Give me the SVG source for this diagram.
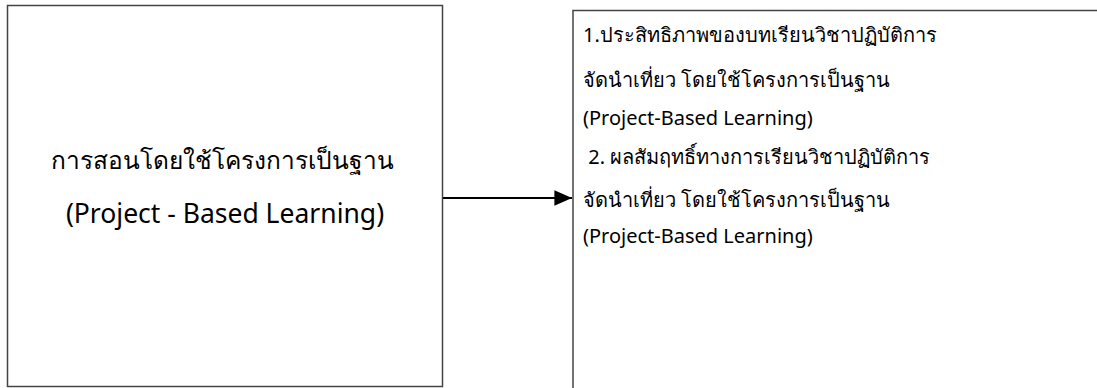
<svg xmlns="http://www.w3.org/2000/svg" width="1097" height="388" viewBox="0 0 1097 388">
<style>
.box{fill:#fff;stroke:#444;stroke-width:1.5}
.t{font-family:"Noto Sans","Open Sans",sans-serif;fill:#000}
.tlt{font-size:24.5px;text-anchor:middle}
.tll{font-size:26.5px;text-anchor:middle}
.tr{font-size:20px}
.conn{stroke:#000;stroke-width:2.2;fill:none}
</style>
<defs>
<marker id="ah" markerWidth="8" markerHeight="7" refX="8" refY="3.5" orient="auto" markerUnits="strokeWidth">
<path d="M0,0 L8,3.5 L0,7 Z" fill="#000"/>
</marker>
</defs>
<rect width="1097" height="388" fill="#fff"/>
<g id="node-left">
<rect class="box" x="7.5" y="5.5" width="435" height="381"/>
<text class="t tlt" x="222" y="169">การสอนโดยใช้โครงการเป็นฐาน</text>
<text class="t tll" x="225" y="223">(Project - Based Learning)</text>
</g>
<g id="node-right">
<path class="box" d="M573,389 V10.5 H1098"/>
<text class="t tr" x="583" y="42">1.ประสิทธิภาพของบทเรียนวิชาปฏิบัติการ</text>
<text class="t tr" x="583" y="87">จัดนำเที่ยว โดยใช้โครงการเป็นฐาน</text>
<text class="t tr" x="583" y="125">(Project-Based Learning)</text>
<text class="t tr" x="583" y="164" xml:space="preserve"> 2. ผลสัมฤทธิ์ทางการเรียนวิชาปฏิบัติการ</text>
<text class="t tr" x="583" y="207">จัดนำเที่ยว โดยใช้โครงการเป็นฐาน</text>
<text class="t tr" x="583" y="243">(Project-Based Learning)</text>
</g>
<g id="connectors">
<line class="conn" x1="443" y1="198" x2="572" y2="198" marker-end="url(#ah)"/>
</g>
</svg>
